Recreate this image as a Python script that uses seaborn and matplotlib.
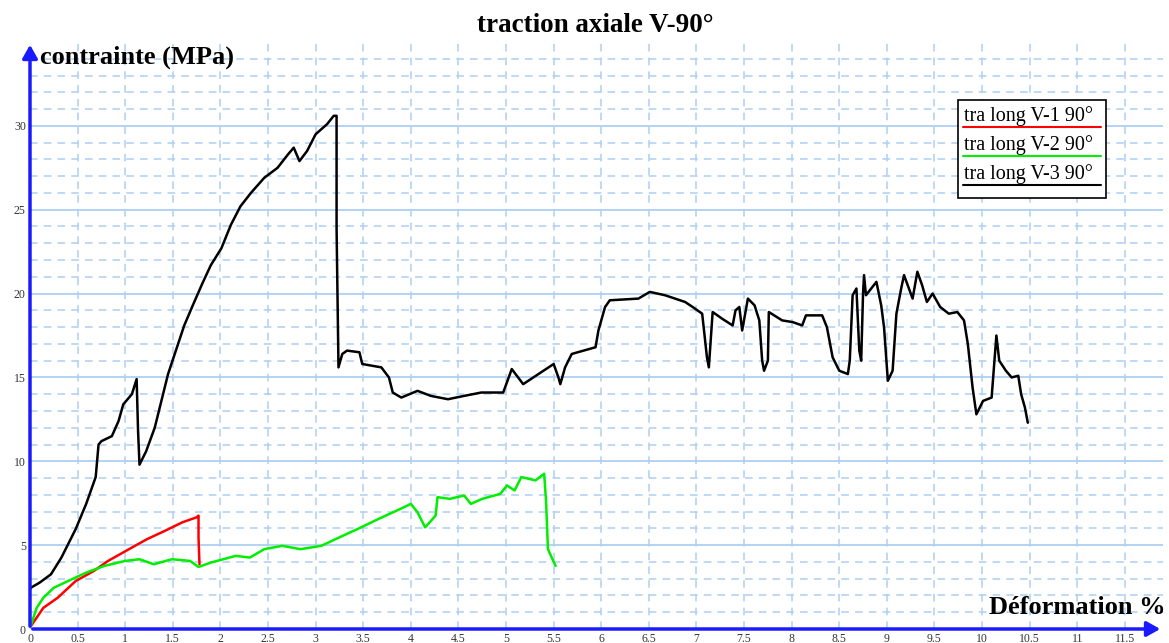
import matplotlib
matplotlib.use("Agg")
import matplotlib.pyplot as plt
import seaborn as sns
from matplotlib.lines import Line2D
from matplotlib.patches import Rectangle

# courbes : deformation (%) / contrainte (MPa)
v1_x = [0.0, 0.02, 0.14, 0.29, 0.48, 0.67, 0.82, 1.04, 1.23, 1.42, 1.60, 1.75, 1.77, 1.77, 1.78]
v1_y = [0.1, 0.26, 1.26, 1.86, 2.86, 3.46, 4.06, 4.76, 5.36, 5.86, 6.36, 6.66, 6.76, 5.46, 3.86]

v2_x = [0.0, 0.02, 0.07, 0.14, 0.25, 0.40, 0.59, 0.78, 1.00, 1.15, 1.30, 1.49, 1.68, 1.77,
        1.90, 2.16, 2.31, 2.46, 2.65, 2.84, 3.06, 3.21, 3.44, 3.66, 3.89, 4.00, 4.07, 4.15,
        4.26, 4.28, 4.41, 4.56, 4.63, 4.75, 4.94, 5.01, 5.09, 5.16, 5.31, 5.40, 5.42, 5.44, 5.52]
v2_y = [0.1, 0.4, 1.26, 1.86, 2.46, 2.86, 3.36, 3.76, 4.06, 4.16, 3.86, 4.16, 4.06, 3.70,
        3.96, 4.36, 4.26, 4.76, 4.96, 4.76, 4.96, 5.36, 5.96, 6.56, 7.16, 7.46, 6.96, 6.06,
        6.76, 7.86, 7.76, 7.96, 7.46, 7.76, 8.06, 8.56, 8.26, 9.06, 8.86, 9.26, 7.66, 4.76, 3.76]

v3_x = [0.0, 0.02, 0.10, 0.22, 0.33, 0.48, 0.59, 0.69, 0.72, 0.75, 0.86, 0.93, 0.98, 1.07,
        1.12, 1.135, 1.15, 1.22, 1.31, 1.38, 1.45, 1.52, 1.62, 1.71, 1.81, 1.90, 2.01, 2.11,
        2.21, 2.32, 2.46, 2.60, 2.71, 2.77, 2.83, 2.91, 3.00, 3.12, 3.19, 3.22, 3.22, 3.24,
        3.28, 3.33, 3.46, 3.49, 3.69, 3.77, 3.81, 3.90, 4.07, 4.21, 4.39, 4.56, 4.74, 4.97,
        5.06, 5.18, 5.34, 5.50, 5.55, 5.57, 5.62, 5.69, 5.94, 5.97, 6.04, 6.09, 6.39, 6.51,
        6.67, 6.88, 6.96, 7.06, 7.11, 7.13, 7.17, 7.27, 7.38, 7.41, 7.45, 7.48, 7.54, 7.61,
        7.66, 7.69, 7.71, 7.75, 7.76, 7.90, 8.01, 8.11, 8.15, 8.32, 8.37, 8.43, 8.50, 8.59,
        8.61, 8.64, 8.68, 8.71, 8.73, 8.75, 8.76, 8.78, 8.89, 8.94, 8.97, 9.01, 9.06, 9.10,
        9.15, 9.18, 9.27, 9.32, 9.37, 9.42, 9.48, 9.56, 9.65, 9.74, 9.81, 9.85, 9.90, 9.94,
        10.01, 10.10, 10.13, 10.15, 10.18, 10.25, 10.31, 10.38, 10.41, 10.45, 10.48]
v3_y = [2.4, 2.5, 2.76, 3.26, 4.26, 5.96, 7.46, 9.06, 11.0, 11.2, 11.5, 12.4, 13.4, 14.0,
        14.9, 11.8, 9.8, 10.6, 12.0, 13.6, 15.2, 16.4, 18.1, 19.3, 20.6, 21.7, 22.7, 24.1,
        25.2, 26.0, 26.9, 27.5, 28.3, 28.7, 27.9, 28.5, 29.5, 30.1, 30.6, 30.6, 23.9, 15.6,
        16.4, 16.6, 16.5, 15.8, 15.6, 15.0, 14.1, 13.8, 14.2, 13.9, 13.7, 13.9, 14.1, 14.1,
        15.5, 14.6, 15.2, 15.8, 15.0, 14.6, 15.6, 16.4, 16.8, 17.8, 19.2, 19.6, 19.7, 20.1,
        19.9, 19.5, 19.2, 18.8, 16.2, 15.6, 18.9, 18.5, 18.1, 19.0, 19.2, 17.8, 19.7, 19.3,
        18.4, 16.0, 15.4, 16.0, 18.9, 18.4, 18.3, 18.1, 18.7, 18.7, 18.0, 16.2, 15.4, 15.2,
        16.0, 19.9, 20.3, 16.6, 16.0, 20.1, 21.1, 19.9, 20.7, 19.3, 18.0, 14.8, 15.4, 18.8,
        20.3, 21.1, 19.7, 21.3, 20.5, 19.5, 20.0, 19.2, 18.8, 18.9, 18.4, 17.0, 14.4, 12.8,
        13.6, 13.8, 16.0, 17.5, 16.0, 15.4, 15.0, 15.1, 14.0, 13.2, 12.3]

series_labels = ["tra long V-1 90°", "tra long V-2 90°", "tra long V-3 90°"]
series_colors = ["#ff0000", "#00ee00", "#000000"]

x_ticks = [i * 0.5 for i in range(24)]
x_ticklabels = ["0", "0.5", "1", "1.5", "2", "2.5", "3", "3.5", "4", "4.5", "5", "5.5",
                "6", "6.5", "7", "7.5", "8", "8.5", "9", "9.5", "10", "10.5", "11", "11.5"]
y_ticks = [0, 5, 10, 15, 20, 25, 30]

sns.set_style("white")
plt.rcParams["font.family"] = ["Liberation Serif", "DejaVu Serif"]
plt.rcParams["text.color"] = "black"

W, H = 1169, 643
fig = plt.figure(figsize=(W / 100, H / 100), dpi=100)
ax = fig.add_axes([30 / W, 14 / H, 1133 / W, 587 / H])
ax.set_xlim(0, 11.9)
ax.set_ylim(0, 35)

grid_col = "#aed0f3"
# grille : tirets tous les 0.5 % et tous les 1 MPa, traits pleins tous les 5 MPa
for xv in x_ticks[1:]:
    ax.axvline(xv, color=grid_col, lw=1.1, ls=(0, (5, 4)), zorder=0)
for yv in range(1, 35):
    if yv % 5 == 0:
        ax.axhline(yv, color=grid_col, lw=1.3, zorder=0)
    else:
        ax.axhline(yv, color=grid_col, lw=1.1, ls=(0, (5, 4)), zorder=0)

for xs, ys, col in zip([v1_x, v2_x, v3_x], [v1_y, v2_y, v3_y], series_colors):
    sns.lineplot(x=xs, y=ys, ax=ax, color=col, lw=1.8, sort=False, estimator=None, zorder=3)

for s in ax.spines.values():
    s.set_visible(False)
ax.set_xticks(x_ticks)
ax.set_xticklabels(x_ticklabels)
ax.set_yticks(y_ticks)
ax.tick_params(length=0, labelsize=8.5, labelcolor="#333333", pad=3)

# axes fleches bleues
blue = "#1a1aff"
ax.annotate("", xy=(1.0, 0), xytext=(0, 0), xycoords="axes fraction",
            arrowprops=dict(arrowstyle="-|>,head_length=0.8,head_width=0.45", color=blue, lw=2.5),
            annotation_clip=False)
ax.annotate("", xy=(0, 1.0), xytext=(0, 0), xycoords="axes fraction",
            arrowprops=dict(arrowstyle="-|>,head_length=0.8,head_width=0.45", color=blue, lw=2.5),
            annotation_clip=False)

ax.set_xlabel("")
ax.set_ylabel("")
fig.text(595 / W, 1 - 26 / H, "traction axiale V-90°", ha="center", va="center",
         fontsize=19.5, fontweight="bold")
fig.text(40 / W, 1 - 57 / H, "contrainte (MPa)", ha="left", va="center",
         fontsize=19, fontweight="bold")
fig.text(1166 / W, 1 - 607 / H, "Déformation %", ha="right", va="center",
         fontsize=19, fontweight="bold")

# legende encadree avec texte souligne
fig.patches.append(Rectangle((958 / W, 1 - 198 / H), 148 / W, 98 / H, transform=fig.transFigure,
                             facecolor="white", edgecolor="black", lw=1.2, zorder=5))
for i, (lab, col) in enumerate(zip(series_labels, series_colors)):
    yt = 116 + i * 29
    fig.text(964 / W, 1 - yt / H, lab, ha="left", va="center", fontsize=14.5, zorder=6)
    fig.lines.append(Line2D([963 / W, 1101 / W], [1 - (yt + 11) / H] * 2,
                            transform=fig.transFigure, color=col, lw=1.5, zorder=6))

fig.savefig("out.png", dpi=100)
